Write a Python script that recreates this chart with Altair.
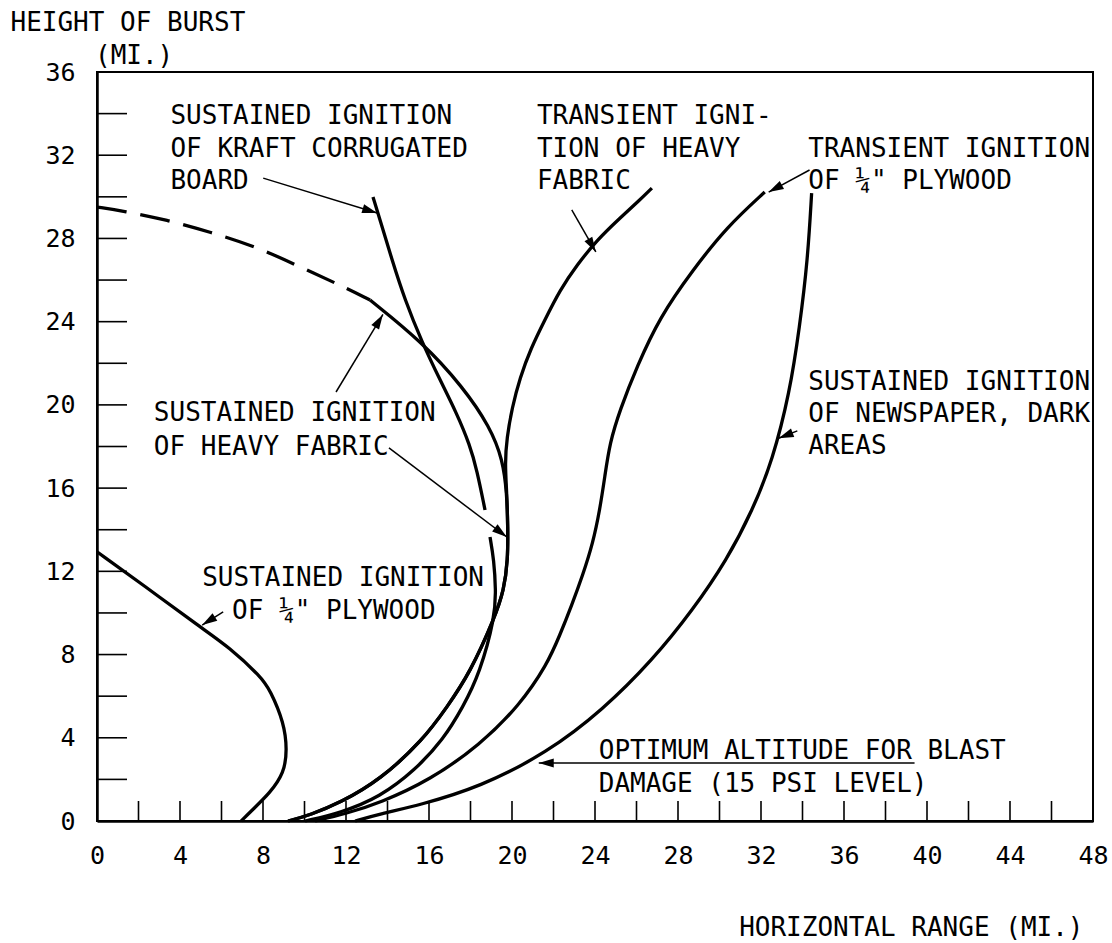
import math
import pandas as pd
import altair as alt

PLOT_W, PLOT_H = 996, 749
X_MAX, Y_MAX = 48, 36
FONT = "DejaVu Sans Mono"

# ---------------- curve data (miles) ----------------
# Sustained ignition of 1/4" plywood
ply_sust_x = [0, 2.23, 4.97, 6.37, 7.91, 8.34, 9.02, 9.16, 9.02, 8.34, 7.48, 6.95]
ply_sust_y = [12.94, 11.34, 9.32, 8.36, 6.92, 6.30, 4.71, 3.41, 2.31, 1.35, 0.53, 0]

# Sustained ignition of heavy fabric (dashed part, then solid)
fab_sust_dash_x = [0, 1.27, 3.38, 5.45, 7.72, 9.79, 11.71, 13.16]
fab_sust_dash_y = [29.51, 29.32, 28.89, 28.31, 27.59, 26.63, 25.76, 25.04]
fab_sust_x = [13.16, 15.65, 17.64, 18.94, 19.56, 19.75, 19.80, 19.80, 19.61, 19.18,
              17.97, 16.87, 15.71, 13.64, 11.71, 10.27, 9.21]
fab_sust_y = [25.04, 23.04, 20.86, 18.94, 17.35, 15.76, 14.13, 12.54, 11.10, 9.80,
              7.11, 5.48, 3.89, 1.97, 0.87, 0.29, 0]

# Sustained ignition of kraft corrugated board (drawn with a small gap)
kraft_top_x = [13.30, 13.64, 14.22, 14.84, 15.65, 16.53, 17.33, 17.97, 18.31, 18.70]
kraft_top_y = [29.99, 28.89, 26.96, 25.04, 23.04, 21.20, 19.61, 18.07, 16.87, 14.95]
kraft_bot_x = [18.94, 19.13, 19.22, 19.18, 18.45, 17.64, 16.67, 15.33, 13.64, 11.71, 10.03]
kraft_bot_y = [13.65, 12.54, 11.10, 9.80, 7.11, 5.48, 3.89, 2.45, 1.15, 0.38, 0]

# Transient ignition of heavy fabric
fab_trans_x = [26.74, 26.16, 25.20, 24.09, 23.13, 22.31, 21.58, 20.91, 20.38, 20.00,
               19.75, 19.66, 19.75, 19.80, 19.80, 19.61, 19.18, 17.97, 16.87, 15.71,
               13.64, 11.71, 10.27, 9.21]
fab_trans_y = [30.42, 29.85, 28.98, 27.92, 26.72, 25.52, 24.08, 22.72, 21.30, 19.85,
               18.40, 17.20, 15.76, 14.13, 12.54, 11.10, 9.80, 7.11, 5.48, 3.89,
               1.97, 0.87, 0.29, 0]

# Transient ignition of 1/4" plywood
ply_trans_x = [32.18, 30.35, 28.71, 27.12, 26.01, 25.20, 24.71, 24.47, 24.23, 23.90,
               23.41, 22.88, 22.31, 21.68, 20.38, 18.45, 16.05, 13.64, 11.95, 10.51]
ply_trans_y = [30.23, 28.55, 26.48, 24.22, 21.82, 19.75, 18.17, 16.53, 14.95, 13.36,
               11.82, 10.38, 8.94, 7.50, 5.58, 3.65, 1.97, 0.87, 0.34, 0]

# Sustained ignition of newspaper, dark areas
news_x = [34.44, 34.25, 33.86, 33.38, 32.56, 31.60, 30.35, 28.71, 26.78, 24.38,
          21.68, 18.45, 15.57, 13.64, 12.44]
news_y = [30.18, 26.96, 23.74, 20.57, 17.35, 14.95, 12.54, 10.14, 7.74, 5.34,
          3.27, 1.63, 0.77, 0.34, 0]

# ---------------- annotation arrows: tail x, tail y, tip x, tip y ----------------
arrow_tail_x = [8.01, 11.52, 14.07, 6.08, 22.88, 34.34, 33.75, 39.40]
arrow_tail_y = [30.90, 20.62, 17.93, 10.05, 29.37, 31.29, 18.75, 2.79]
arrow_tip_x = [13.50, 13.78, 19.75, 5.07, 24.04, 32.37, 32.85, 21.29]
arrow_tip_y = [29.22, 24.35, 13.65, 9.42, 27.35, 30.23, 18.40, 2.79]

# ---------------- labels ----------------
label_text = [
    "SUSTAINED IGNITION", "OF KRAFT CORRUGATED", "BOARD",
    "TRANSIENT IGNI-", "TION OF HEAVY", "FABRIC",
    "TRANSIENT IGNITION", "OF \u00bc\" PLYWOOD",
    "SUSTAINED IGNITION", "OF NEWSPAPER, DARK", "AREAS",
    "SUSTAINED IGNITION", "OF HEAVY FABRIC",
    "SUSTAINED IGNITION", "OF \u00bc\" PLYWOOD",
    "OPTIMUM ALTITUDE FOR BLAST", "DAMAGE (15 PSI LEVEL)",
]
label_x = [3.54, 3.54, 3.54,
           21.20, 21.20, 21.20,
           34.28, 34.28,
           34.28, 34.28, 34.28,
           2.74, 2.74,
           5.07, 6.51,
           24.18, 24.18]
label_y = [33.90, 32.30, 30.76,
           33.90, 32.30, 30.76,
           32.30, 30.76,
           21.10, 19.56, 18.02,
           19.61, 18.00,
           11.68, 10.10,
           3.36, 1.78]

x_tick_values = list(range(0, 49, 4))
y_tick_values = list(range(0, 37, 4))
x_minor_ticks = list(range(2, 48, 2))
y_minor_ticks = list(range(2, 36, 2))

# ---------------- build tables ----------------
rows = []
def add(seg, xs, ys):
    for i, (x, y) in enumerate(zip(xs, ys)):
        rows.append({"seg": seg, "i": i, "x": x, "y": y})

add("ply_sust", ply_sust_x, ply_sust_y)
add("fab_sust", fab_sust_x, fab_sust_y)
add("kraft_top", kraft_top_x, kraft_top_y)
add("kraft_bot", kraft_bot_x, kraft_bot_y)
add("fab_trans", fab_trans_x, fab_trans_y)
add("ply_trans", ply_trans_x, ply_trans_y)
add("news", news_x, news_y)
solid_df = pd.DataFrame(rows)
rows = []
add("fab_sust_dash", fab_sust_dash_x, fab_sust_dash_y)
dash_df = pd.DataFrame(rows)

kx = PLOT_W / X_MAX
ky = PLOT_H / Y_MAX
arrows = []
for tx, ty, hx, hy in zip(arrow_tail_x, arrow_tail_y, arrow_tip_x, arrow_tip_y):
    ang = math.degrees(math.atan2((hx - tx) * kx, (hy - ty) * ky)) % 360
    arrows.append({"tx": tx, "ty": ty, "hx": hx, "hy": hy, "ang": ang})
arrow_df = pd.DataFrame(arrows)

label_df = pd.DataFrame({"t": label_text, "x": label_x, "y": label_y})
xt_df = pd.DataFrame({"v": x_minor_ticks})
yt_df = pd.DataFrame({"v": y_minor_ticks})

xscale = alt.Scale(domain=[0, X_MAX], nice=False, zero=False)
yscale = alt.Scale(domain=[0, Y_MAX], nice=False, zero=False)

x_axis = alt.Axis(values=x_tick_values, ticks=False, grid=False, labelFlush=False,
                  labelOverlap=False, labelPadding=22, labelFont=FONT, labelFontSize=25,
                  title="HORIZONTAL RANGE (MI.)", titleFont=FONT, titleFontSize=26,
                  titleFontWeight="normal", titleAlign="right", titleBaseline="middle",
                  titleX=986, titleY=106)
y_axis = alt.Axis(values=y_tick_values, ticks=False, grid=False, labelFlush=False,
                  labelOverlap=False, labelPadding=22, labelFont=FONT, labelFontSize=25,
                  title="HEIGHT OF BURST", titleFont=FONT, titleFontSize=26,
                  titleFontWeight="normal", titleAngle=0, titleAlign="left",
                  titleBaseline="middle", titleX=-87, titleY=-50)

X = alt.X("x:Q", scale=xscale, axis=x_axis)
Y = alt.Y("y:Q", scale=yscale, axis=y_axis)

solid = alt.Chart(solid_df).mark_line(
    color="black", strokeWidth=3.3, interpolate="basis"
).encode(x=X, y=Y, detail="seg:N", order="i:Q")

dashed = alt.Chart(dash_df).mark_line(
    color="black", strokeWidth=3.3, interpolate="basis", strokeDash=[30, 14]
).encode(x=X, y=Y, detail="seg:N", order="i:Q")

shafts = alt.Chart(arrow_df).mark_rule(color="black", strokeWidth=1.5).encode(
    x=alt.X("tx:Q", scale=xscale, axis=x_axis), y=alt.Y("ty:Q", scale=yscale, axis=y_axis),
    x2="hx:Q", y2="hy:Q")

heads = alt.Chart(arrow_df).mark_point(
    shape="M0,0L0.3,1L-0.3,1Z", filled=True, color="black", opacity=1, size=900, strokeWidth=0
).encode(x=alt.X("hx:Q", scale=xscale, axis=x_axis), y=alt.Y("hy:Q", scale=yscale, axis=y_axis),
         angle=alt.Angle("ang:Q", scale=None))

labels = alt.Chart(label_df).mark_text(
    font=FONT, fontSize=26, align="left", baseline="middle", color="black"
).encode(x=X, y=Y, text="t:N")

yticks = alt.Chart(yt_df).mark_rule(color="black", strokeWidth=1.6).encode(
    y=alt.Y("v:Q", scale=yscale, axis=y_axis), x=alt.value(0), x2=alt.value(30))
xticks = alt.Chart(xt_df).mark_rule(color="black", strokeWidth=1.6).encode(
    x=alt.X("v:Q", scale=xscale, axis=x_axis), y=alt.value(PLOT_H), y2=alt.value(PLOT_H - 20))

unit_df = pd.DataFrame({"t": ["(MI.)"]})
unit = alt.Chart(unit_df).mark_text(
    font=FONT, fontSize=26, align="left", baseline="middle", color="black"
).encode(x=alt.value(-2), y=alt.value(-16), text="t:N")

chart = alt.layer(yticks, xticks, dashed, solid, shafts, heads, labels, unit).properties(
    width=PLOT_W, height=PLOT_H,
    autosize=alt.AutoSizeParams(type="none"),
    padding={"left": 97, "top": 72, "right": 19, "bottom": 122},
    background="white",
).configure_view(stroke="black", strokeWidth=2).configure_axis(
    domainColor="black", domainWidth=2.5, labelColor="black", titleColor="black"
)

chart.save("out.html", embed_options={"renderer": "svg", "actions": False})
